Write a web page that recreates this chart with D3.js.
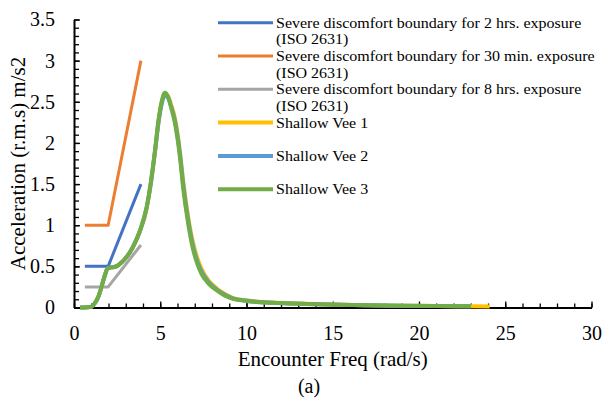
<!DOCTYPE html>
<html>
<head>
<meta charset="utf-8">
<script src="https://cdn.jsdelivr.net/npm/d3@7"></script>
<style>
  body { margin: 0; background: #fff; }
  svg text { font-family: "Liberation Serif", Tinos, "DejaVu Serif", serif !important; fill: #000; }
</style>
</head>
<body>
<svg id="chart" width="606" height="398"></svg>
<script>
// ISO 2631 boundaries
const isoFreq = [0.63, 1.98, 3.88];
const iso2hrs = [0.5, 0.5, 1.5];
const iso30min = [1.0, 1.0, 3.0];
const iso8hrs = [0.25, 0.25, 0.76];

// Shallow Vee responses
const veeFreq = [0.35, 0.8, 1.02, 1.2, 1.41, 1.58, 1.7, 1.82, 1.93, 2.1, 2.28, 2.45, 2.66, 2.95, 3.24, 3.52, 3.82, 4.21, 4.45, 4.7, 4.9, 5.08, 5.27, 5.45, 5.62, 5.85, 6.14, 6.33, 6.62, 6.91, 7.15, 7.39, 7.8, 8.26, 8.7, 9.22, 10.0, 10.58, 11.5, 12.5, 13.5, 15, 17, 19, 21, 23.0];
const vee3 = [0, 0.003, 0.012, 0.05, 0.13, 0.24, 0.33, 0.41, 0.47, 0.485, 0.49, 0.5, 0.53, 0.59, 0.67, 0.78, 0.93, 1.22, 1.52, 1.92, 2.28, 2.5, 2.61, 2.56, 2.44, 2.24, 1.83, 1.45, 1.02, 0.70, 0.53, 0.41, 0.29, 0.21, 0.15, 0.106, 0.08, 0.067, 0.057, 0.049, 0.043, 0.034, 0.026, 0.021, 0.017, 0.014];
const vee2 = [0, 0.003, 0.012, 0.05, 0.13, 0.24, 0.33, 0.41, 0.47, 0.485, 0.49, 0.5, 0.53, 0.59, 0.67, 0.78, 0.93, 1.21, 1.5, 1.9, 2.25, 2.47, 2.58, 2.55, 2.45, 2.27, 1.87, 1.5, 1.06, 0.74, 0.56, 0.44, 0.31, 0.22, 0.16, 0.11, 0.083, 0.069, 0.058, 0.05, 0.044, 0.035, 0.027, 0.021, 0.017, 0.014];
const vee1Freq = veeFreq.concat([24.1]);
const vee1 = [0, 0.003, 0.012, 0.05, 0.13, 0.24, 0.33, 0.41, 0.47, 0.485, 0.49, 0.5, 0.53, 0.59, 0.67, 0.78, 0.93, 1.2, 1.5, 1.9, 2.26, 2.49, 2.6, 2.57, 2.47, 2.3, 1.9, 1.54, 1.1, 0.78, 0.6, 0.47, 0.33, 0.235, 0.17, 0.115, 0.087, 0.072, 0.06, 0.052, 0.045, 0.036, 0.028, 0.022, 0.018, 0.015, 0.013];

const legendLabels = [
  ['Severe discomfort boundary for 2 hrs. exposure', '(ISO 2631)'],
  ['Severe discomfort boundary for 30 min. exposure', '(ISO 2631)'],
  ['Severe discomfort boundary for 8 hrs. exposure', '(ISO 2631)'],
  ['Shallow Vee 1'],
  ['Shallow Vee 2'],
  ['Shallow Vee 3']
];
const colors = ['#4472C4', '#ED7D31', '#A5A5A5', '#FFC000', '#5B9BD5', '#70AD47'];

const xTicks = [0, 5, 10, 15, 20, 25, 30];
const yTicks = [0, 0.5, 1, 1.5, 2, 2.5, 3, 3.5];

const svg = d3.select('svg#chart');
const margin = { left: 74, right: 14.5, top: 19.5, bottom: 90.5 };
const width = 606 - margin.left - margin.right;
const height = 398 - margin.top - margin.bottom;

const x = d3.scaleLinear().domain([0, 30]).range([0, width]);
const y = d3.scaleLinear().domain([0, 3.5]).range([height, 0]);

const g = svg.append('g').attr('transform', `translate(${margin.left},${margin.top})`);

const zip = (xs, ys) => ys.map((v, i) => [xs[i], v]);
const series = [
  { pts: zip(isoFreq, iso2hrs), w: 3, curve: d3.curveLinear },
  { pts: zip(isoFreq, iso30min), w: 3, curve: d3.curveLinear },
  { pts: zip(isoFreq, iso8hrs), w: 3, curve: d3.curveLinear },
  { pts: zip(vee1Freq, vee1), w: 4, curve: d3.curveMonotoneX },
  { pts: zip(veeFreq, vee2), w: 4, curve: d3.curveMonotoneX },
  { pts: zip(veeFreq, vee3), w: 4, curve: d3.curveMonotoneX }
];

// axes
const minorX = d3.range(0, 30.01, 1);
const minorY = d3.range(0, 3.501, 0.1);

g.append('g')
  .attr('transform', `translate(0,${height})`)
  .call(d3.axisBottom(x).tickValues(minorX).tickSize(-4).tickFormat(''))
  .call(a => a.select('.domain').remove());
g.append('g')
  .call(d3.axisLeft(y).tickValues(minorY).tickSize(-5).tickFormat(''))
  .call(a => a.select('.domain').remove());

const xAxis = g.append('g')
  .attr('transform', `translate(0,${height})`)
  .call(d3.axisBottom(x).tickValues(xTicks).tickSize(-6).tickPadding(18).tickSizeOuter(0));
const yAxis = g.append('g')
  .call(d3.axisLeft(y).tickValues(yTicks).tickSize(-6).tickPadding(19).tickFormat(d3.format('')).tickSizeOuter(0));

g.selectAll('.tick line').attr('stroke', '#000').attr('stroke-width', 1.3);
[xAxis, yAxis].forEach(a => {
  a.attr('font-family', null);
  a.select('.domain').attr('stroke', '#000').attr('stroke-width', 2);
  a.selectAll('text').attr('font-size', 20);
});
xAxis.selectAll('text').attr('dy', '0.71em').attr('y', 18);

// lines
series.forEach((s, i) => {
  g.append('path')
    .datum(s.pts)
    .attr('fill', 'none')
    .attr('stroke', colors[i])
    .attr('stroke-width', s.w)
    .attr('stroke-linejoin', 'round')
    .attr('d', d3.line().x(d => x(d[0])).y(d => y(d[1])).curve(s.curve));
});

// axis titles
svg.append('text')
  .attr('x', margin.left + width / 2).attr('y', 366)
  .attr('text-anchor', 'middle').attr('font-size', 21)
  .text('Encounter Freq (rad/s)');
svg.append('text')
  .attr('transform', `translate(25,${margin.top + height / 2}) rotate(-90)`)
  .attr('text-anchor', 'middle').attr('font-size', 21)
  .text('Acceleration (r.m.s) m/s2');
svg.append('text')
  .attr('x', 309).attr('y', 393)
  .attr('text-anchor', 'middle').attr('font-size', 20)
  .text('(a)');

// legend: slightly smaller type, stretched back to the reference width
const leg = svg.append('g');
legendLabels.forEach((lines, i) => {
  const ly = 22.7 + i * 33.3;
  leg.append('line')
    .attr('x1', 218).attr('x2', 273).attr('y1', ly).attr('y2', ly)
    .attr('stroke', colors[i]).attr('stroke-width', i < 3 ? 3 : 4);
  lines.forEach((t, j) => {
    const txt = leg.append('text')
      .attr('x', 276).attr('y', ly + j * 16.6 + 5)
      .attr('font-size', 15)
      .text(t);
    const w = txt.node().getComputedTextLength();
    txt.attr('textLength', w * 16 / 15).attr('lengthAdjust', 'spacingAndGlyphs');
  });
});
</script>
</body>
</html>
